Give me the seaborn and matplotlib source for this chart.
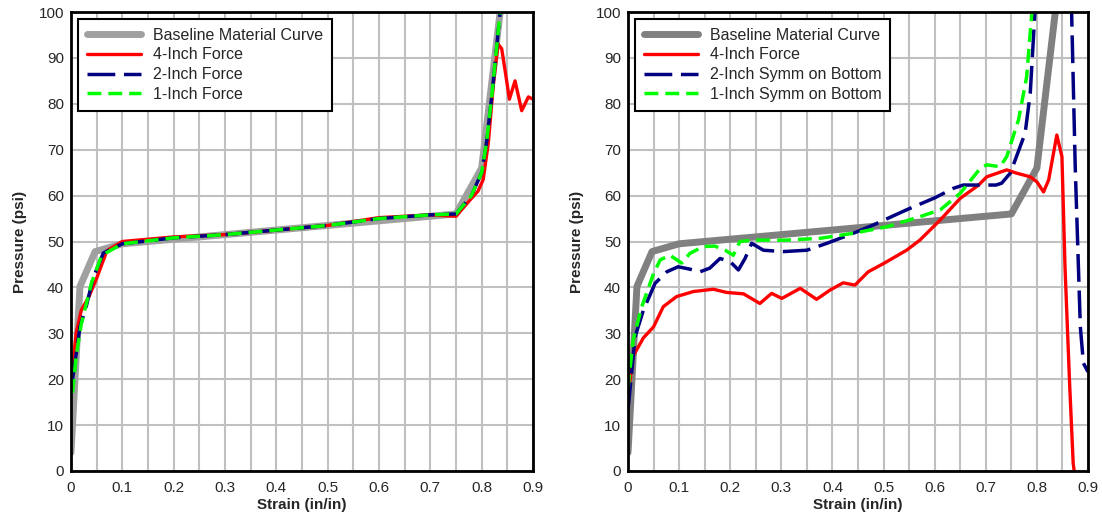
import numpy as np
import matplotlib
matplotlib.use("Agg")
import matplotlib.pyplot as plt
import seaborn as sns
from matplotlib.ticker import MultipleLocator, FuncFormatter

sns.set_style("white")
plt.rcParams["font.family"] = ["Liberation Sans", "DejaVu Sans"]

# baseline material curve (same on both panels)
base_x = [0.0, 0.0175, 0.047, 0.1, 0.75, 0.8, 0.836]
base_y = [4, 40.2, 47.8, 49.5, 56, 66, 100]

# left panel: force cases
l4_x = [0.003, 0.01, 0.02, 0.035, 0.05, 0.07, 0.1, 0.15, 0.2, 0.3, 0.4, 0.5, 0.6, 0.7, 0.75,
        0.777, 0.793, 0.803, 0.813, 0.823, 0.832, 0.839, 0.846, 0.854, 0.865, 0.878, 0.891, 0.9]
l4_y = [22, 30, 35, 38, 42, 48, 50, 50.5, 51, 51.5, 52.5, 53.5, 55.2, 55.8, 55.5,
        59, 61, 63.5, 71.5, 84.5, 93, 92, 87, 81, 85, 78.5, 81.5, 81]
l2_x = [0.003, 0.0175, 0.03, 0.043, 0.063, 0.1, 0.2, 0.3, 0.4, 0.5, 0.6, 0.7, 0.75,
        0.78, 0.8, 0.81, 0.82, 0.836]
l2_y = [20, 31.4, 36, 42, 47.5, 49.5, 50.8, 51.5, 52.5, 53.5, 55, 55.8, 56,
        60, 65, 72, 82, 100]
l1_x = [0.003, 0.01, 0.02, 0.04, 0.06, 0.1, 0.2, 0.3, 0.4, 0.5, 0.6, 0.7, 0.75,
        0.78, 0.8, 0.81, 0.82, 0.836]
l1_y = [17, 25, 32, 41, 47, 49.5, 50.8, 51.5, 52.5, 53.5, 55, 55.8, 56,
        60, 65, 72, 82, 100]

# right panel: symmetric-on-bottom cases
r4_x = [0.0, 0.01, 0.03, 0.05, 0.069, 0.095, 0.128, 0.167, 0.193, 0.226, 0.258, 0.281, 0.301,
        0.337, 0.369, 0.395, 0.421, 0.444, 0.47, 0.5, 0.545, 0.571, 0.611, 0.65, 0.686,
        0.702, 0.741, 0.76, 0.787, 0.8, 0.813, 0.823, 0.839, 0.849, 0.855, 0.864, 0.871, 0.873]
r4_y = [16.5, 25, 29, 31.4, 35.8, 38, 39.1, 39.6, 38.9, 38.6, 36.5, 38.7, 37.6,
        39.8, 37.4, 39.4, 41, 40.5, 43.4, 45.2, 48.1, 50.3, 54.7, 59.4, 62.3,
        64.1, 65.6, 64.9, 64.1, 63, 60.8, 63.4, 73.2, 68.5, 44.5, 19.1, 1.7, 0]
r2_x = [0.0, 0.014, 0.03, 0.053, 0.076, 0.098, 0.12, 0.141, 0.16, 0.18, 0.2, 0.216, 0.229,
        0.242, 0.265, 0.304, 0.35, 0.389, 0.441, 0.48, 0.545, 0.6, 0.637, 0.656, 0.69,
        0.72, 0.731, 0.748, 0.777, 0.787, 0.796, 0.83, 0.868, 0.875, 0.885, 0.891, 0.9]
r2_y = [13.3, 29.3, 35, 40.9, 43.4, 44.5, 44, 43.4, 44.2, 46.3, 45.6, 43.8, 46.3,
        49.6, 48.1, 47.8, 48.1, 49.6, 51.8, 53.6, 56.9, 59.5, 61.6, 62.3, 62.3,
        62.3, 62.7, 64.9, 73.6, 82.3, 99.7, 140, 99.7, 66.3, 31.4, 23.5, 21.6]
r1_x = [0.0, 0.01, 0.027, 0.05, 0.063, 0.082, 0.105, 0.121, 0.147, 0.17, 0.19, 0.206, 0.219,
        0.245, 0.31, 0.376, 0.441, 0.506, 0.571, 0.611, 0.65, 0.689, 0.702, 0.728, 0.741,
        0.764, 0.78, 0.79, 0.8]
r1_y = [18, 28.5, 35.8, 43, 46, 47, 45.3, 47.4, 48.9, 49, 48.1, 47, 50,
        50.3, 50.3, 50.7, 51.8, 53.2, 55.4, 56.9, 60.5, 65.9, 66.7, 66.3, 68.5,
        76.5, 85.9, 99.7, 115]

left_labels = ["Baseline Material Curve", "4-Inch Force", "2-Inch Force", "1-Inch Force"]
right_labels = ["Baseline Material Curve", "4-Inch Force", "2-Inch Symm on Bottom",
                "1-Inch Symm on Bottom"]

fig = plt.figure(figsize=(11.02, 5.2), dpi=100)
ax1 = fig.add_axes([71 / 1102, 49 / 520, 462 / 1102, 459 / 520])
ax2 = fig.add_axes([628 / 1102, 49 / 520, 460 / 1102, 459 / 520])


def draw(ax, curves, labels, base_color):
    styles = [
        dict(color=base_color, linewidth=5, linestyle="-"),
        dict(color="#ff0000", linewidth=2.4, linestyle="-"),
        dict(color="#000080", linewidth=2.5, linestyle=(0, (8, 2.5))),
        dict(color="#00ff00", linewidth=2.5, linestyle=(0, (4, 2))),
    ]
    for (x, y), lab, st in zip(curves, labels, styles):
        sns.lineplot(x=x, y=y, ax=ax, label=lab, estimator=None, sort=False, **st)

    ax.set_xlim(0, 0.9)
    ax.set_ylim(0, 100)
    ax.xaxis.set_major_locator(MultipleLocator(0.1))
    ax.xaxis.set_minor_locator(MultipleLocator(0.05))
    ax.yaxis.set_major_locator(MultipleLocator(10))
    ax.xaxis.set_major_formatter(FuncFormatter(lambda v, p: "0" if abs(v) < 1e-9 else f"{v:.1f}"))
    ax.grid(True, which="both", axis="x", color="#c0c0c0", linewidth=1.5)
    ax.grid(True, which="major", axis="y", color="#c0c0c0", linewidth=1.5)
    ax.set_axisbelow(True)
    ax.tick_params(which="both", length=0, labelsize=11)
    ax.tick_params(axis="x", pad=7)
    ax.tick_params(axis="y", pad=5)
    for s in ax.spines.values():
        s.set_color("black")
        s.set_linewidth(2)
    ax.set_xlabel("Strain (in/in)", fontsize=11, fontweight="bold", labelpad=2)
    ax.set_ylabel("Pressure (psi)", fontsize=11, fontweight="bold", labelpad=8)
    leg = ax.legend(loc="upper left", fontsize=11.5, frameon=True, fancybox=False,
                    handlelength=3.4, labelspacing=0.3, borderpad=0.55, borderaxespad=0,
                    handletextpad=0.7, bbox_to_anchor=(0.016, 0.985))
    leg.get_frame().set_edgecolor("black")
    leg.get_frame().set_linewidth(1.5)
    leg.get_frame().set_alpha(1)


draw(ax1, [(base_x, base_y), (l4_x, l4_y), (l2_x, l2_y), (l1_x, l1_y)], left_labels, "#a0a0a0")
draw(ax2, [(base_x, base_y), (r4_x, r4_y), (r2_x, r2_y), (r1_x, r1_y)], right_labels, "#808080")

fig.savefig("out.png", dpi=100)
